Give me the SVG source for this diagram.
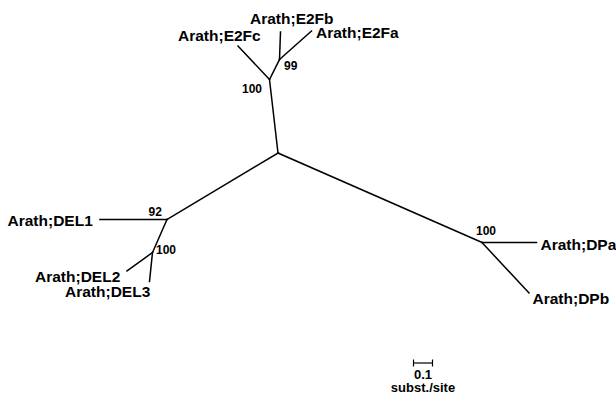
<svg xmlns="http://www.w3.org/2000/svg" width="616" height="398" viewBox="0 0 616 398">
<style>
.e{stroke:#000;stroke-width:1.5;fill:none;stroke-linecap:square}
.t{font-family:"Liberation Sans",Arial,sans-serif;font-weight:bold;font-size:15.5px;fill:#000}
.b{font-family:"Liberation Sans",Arial,sans-serif;font-weight:bold;font-size:12px;fill:#000}
.s{font-family:"Liberation Sans",Arial,sans-serif;font-weight:bold;font-size:13px;fill:#000}
</style>
<rect width="616" height="398" fill="#fff"/>
<g id="connectors">
<line class="e" x1="278" y1="153" x2="269.5" y2="79.5"/>
<line class="e" x1="269.5" y1="79.5" x2="238" y2="46"/>
<line class="e" x1="269.5" y1="79.5" x2="279.5" y2="59.5"/>
<line class="e" x1="279.5" y1="59.5" x2="280.5" y2="32"/>
<line class="e" x1="279.5" y1="59.5" x2="311.5" y2="31"/>
<line class="e" x1="278" y1="153" x2="167" y2="219.5"/>
<line class="e" x1="167" y1="219.5" x2="100" y2="219.5"/>
<line class="e" x1="167" y1="219.5" x2="152.5" y2="252.5"/>
<line class="e" x1="152.5" y1="252.5" x2="127" y2="271"/>
<line class="e" x1="152.5" y1="252.5" x2="149.5" y2="281.5"/>
<line class="e" x1="278" y1="153" x2="482" y2="242.5"/>
<line class="e" x1="482" y1="242.5" x2="536.5" y2="242.5"/>
<line class="e" x1="482" y1="242.5" x2="529" y2="293"/>
</g>
<g id="E2Fc"><text class="t" x="178" y="41">Arath;E2Fc</text></g>
<g id="E2Fb"><text class="t" x="250" y="24">Arath;E2Fb</text></g>
<g id="E2Fa"><text class="t" x="316" y="37.5">Arath;E2Fa</text></g>
<g id="bs99"><text class="b" x="284" y="70">99</text></g>
<g id="bs100a"><text class="b" x="242" y="92.5">100</text></g>
<g id="DEL1"><text class="t" x="7.5" y="226">Arath;DEL1</text></g>
<g id="DEL2"><text class="t" x="35" y="282">Arath;DEL2</text></g>
<g id="DEL3"><text class="t" x="65" y="297">Arath;DEL3</text></g>
<g id="bs92"><text class="b" x="148.5" y="216">92</text></g>
<g id="bs100b"><text class="b" x="156" y="254">100</text></g>
<g id="DPa"><text class="t" x="540.5" y="250">Arath;DPa</text></g>
<g id="DPb"><text class="t" x="532.5" y="304">Arath;DPb</text></g>
<g id="bs100c"><text class="b" x="476" y="235">100</text></g>
<g id="scale">
<line stroke="#000" stroke-width="1.2" x1="413.5" y1="363" x2="432.5" y2="363"/>
<line stroke="#000" stroke-width="1.2" x1="413.5" y1="359.5" x2="413.5" y2="366.5"/>
<line stroke="#000" stroke-width="1.2" x1="432.5" y1="359.5" x2="432.5" y2="366.5"/>
<text class="s" x="423" y="378.5" text-anchor="middle">0.1</text>
<text class="s" x="423" y="392" text-anchor="middle">subst./site</text>
</g>
</svg>
